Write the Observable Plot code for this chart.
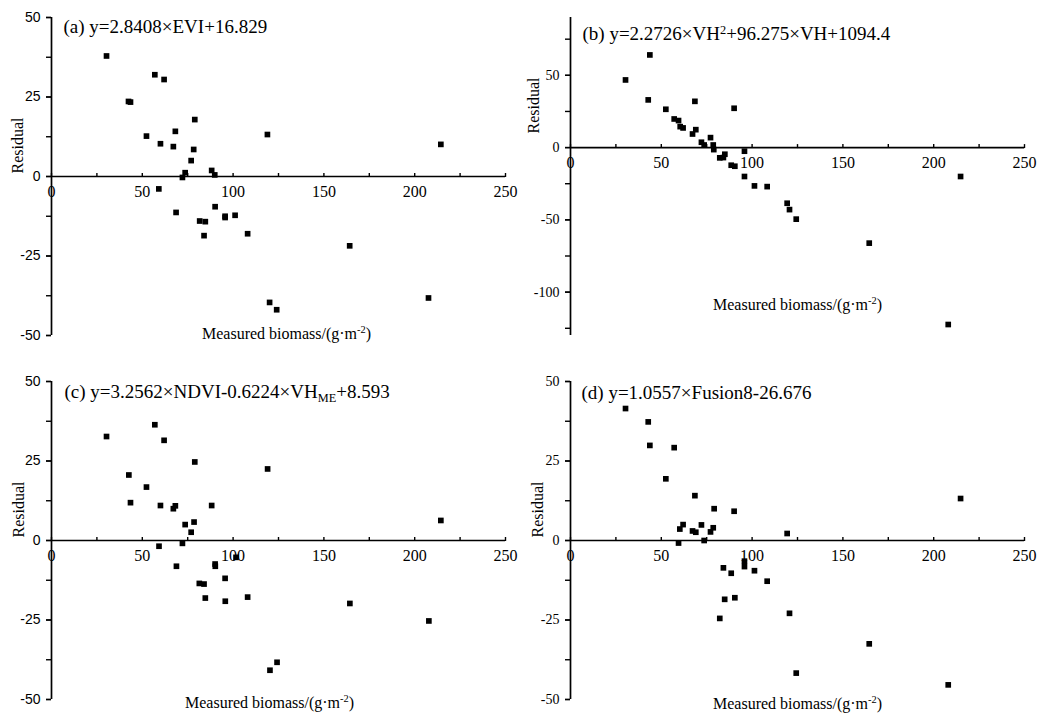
<!DOCTYPE html>
<html>
<head>
<meta charset="utf-8">
<script src="https://cdn.jsdelivr.net/npm/d3@7"></script>
<script src="https://cdn.jsdelivr.net/npm/@observablehq/plot@0.6"></script>
<style>
  html, body { margin: 0; padding: 0; background: #fff; }
  #wrap { position: relative; width: 1038px; height: 718px; overflow: hidden; background: #fff; }
  .pane { position: absolute; }
  svg { overflow: visible; }
</style>
</head>
<body>
<div id="wrap"></div>
<script>
// ---------- Data ----------
const xTicksMajor = [0, 50, 100, 150, 200, 250];
const xTicksMinor = [0, 25, 50, 75, 100, 125, 150, 175, 200, 225, 250];

const titleA = "(a) y=2.8408×EVI+16.829";
const titleB = "(b) y=2.2726×VH^{2}+96.275×VH+1094.4";
const titleC = "(c) y=3.2562×NDVI-0.6224×VH_{ME}+8.593";
const titleD = "(d) y=1.0557×Fusion8-26.676";
const xLabel = "Measured biomass/(g·m^{-2})";
const yLabel = "Residual";

const biomassA = [30.3, 42.4, 43.5, 56.9, 62.0, 52.3, 60.0, 67.1, 68.2, 78.9, 78.3, 76.9, 73.6, 72.1, 88.2, 89.9, 118.9, 214.4, 59.1, 68.6, 81.6, 84.7, 84.0, 90.1, 95.6, 95.6, 101.1, 108.0, 164.2, 120.1, 124.0, 207.6];
const residualA = [37.9, 23.6, 23.4, 32.0, 30.5, 12.7, 10.3, 9.4, 14.2, 17.9, 8.5, 5.0, 1.2, -0.3, 1.9, 0.5, 13.2, 10.1, -3.9, -11.3, -14.0, -14.2, -18.6, -9.5, -12.5, -12.9, -12.2, -18.0, -21.8, -39.6, -41.9, -38.2];

const biomassB = [30.3, 43.7, 42.8, 52.5, 57.1, 59.5, 60.4, 62.0, 68.5, 69.0, 67.2, 72.1, 73.6, 77.1, 78.6, 78.9, 82.2, 84.2, 85.0, 88.5, 90.5, 90.1, 95.8, 95.8, 101.3, 108.3, 119.3, 120.6, 124.3, 164.5, 208.0, 214.8];
const residualB = [46.8, 64.1, 33.0, 26.5, 19.8, 18.7, 14.5, 13.6, 32.0, 12.4, 9.4, 3.7, 1.8, 6.9, 1.8, -1.4, -7.1, -6.9, -4.6, -12.2, -12.9, 27.2, -2.5, -20.0, -26.5, -27.0, -38.5, -42.9, -49.5, -66.1, -122.4, -20.0];

const biomassC = [30.3, 56.9, 62.0, 42.6, 52.3, 43.5, 60.0, 67.1, 68.2, 78.9, 119.0, 88.2, 73.6, 78.5, 76.9, 72.1, 59.2, 214.4, 68.8, 90.1, 90.2, 101.6, 81.4, 84.0, 95.6, 84.7, 95.7, 108.0, 164.3, 207.8, 120.3, 124.2];
const residualC = [32.7, 36.4, 31.5, 20.6, 16.8, 11.9, 11.0, 10.0, 10.9, 24.7, 22.5, 11.0, 5.0, 5.8, 2.6, -0.9, -1.8, 6.3, -8.1, -7.4, -8.1, -5.3, -13.5, -13.7, -11.9, -18.1, -19.1, -17.8, -19.8, -25.3, -40.8, -38.3];

const biomassD = [30.3, 42.8, 43.7, 57.1, 52.5, 68.5, 79.1, 90.1, 214.8, 62.0, 60.2, 72.1, 67.2, 69.0, 77.1, 78.6, 73.6, 59.5, 119.3, 95.8, 95.8, 84.2, 88.5, 101.3, 108.3, 84.9, 90.5, 82.2, 120.6, 164.5, 124.3, 208.0];
const residualD = [41.5, 37.3, 29.9, 29.2, 19.4, 14.1, 10.0, 9.2, 13.2, 5.0, 3.6, 4.9, 3.0, 2.6, 2.7, 4.0, 0.0, -0.8, 2.2, -6.5, -8.2, -8.6, -10.3, -9.5, -12.8, -18.5, -18.0, -24.5, -22.9, -32.5, -41.7, -45.4];

const yDomainA = [-50, 50], yMajorA = [-50, -25, 0, 25, 50], yMinorA = [-50, -37.5, -25, -12.5, 0, 12.5, 25, 37.5, 50];
const yDomainB = [-130, 90], yMajorB = [-100, -50, 0, 50], yMinorB = [-125, -100, -75, -50, -25, 0, 25, 50, 75];
const yDomainC = yDomainA, yMajorC = yMajorA, yMinorC = yMinorA;
const yDomainD = yDomainA, yMajorD = yMajorA, yMinorD = yMinorA;

// ---------- Drawing ----------
const SERIF = "'Liberation Serif', 'Times New Roman', serif";
const SANS = "'Liberation Sans', Arial, sans-serif";

function richText(svg) {
  svg.querySelectorAll("text").forEach(t => {
    const s = t.textContent;
    if (!/[\^_]\{/.test(s)) return;
    while (t.firstChild) t.removeChild(t.firstChild);
    const re = /([\^_])\{([^}]*)\}/g;
    let last = 0, m;
    const ns = "http://www.w3.org/2000/svg";
    const add = (txt, shift, small) => {
      const ts = document.createElementNS(ns, "tspan");
      ts.textContent = txt;
      if (small) ts.setAttribute("font-size", "65%");
      if (shift) ts.setAttribute("dy", shift);
      t.appendChild(ts);
    };
    let pendingBack = 0;
    while ((m = re.exec(s))) {
      const before = s.slice(last, m.index);
      if (before) { add(before, pendingBack ? String(pendingBack) : null, false); pendingBack = 0; }
      const up = m[1] === "^" ? -6 : 4;
      add(m[2], String(up + pendingBack), true);
      pendingBack = -up;
      last = re.lastIndex;
    }
    const rest = s.slice(last);
    if (rest) add(rest, pendingBack ? String(pendingBack) : null, false);
  });
}

function panel(cfg) {
  const W = 519, H = 355, mt = 17, mb = 20, ml = 51, mr = 14;
  const ph = H - mt - mb;
  const [y0, y1] = cfg.yDomain;
  const zeroUp = (0 - y0) / (y1 - y0) * ph; // px from bottom edge up to y=0
  const data = cfg.x.map((x, i) => ({biomass: x, residual: cfg.y[i]}));
  const svg = Plot.plot({
    width: W, height: H,
    marginTop: mt, marginBottom: mb, marginLeft: ml, marginRight: mr,
    style: {background: "white", color: "black", fontFamily: SERIF},
    x: {domain: [0, 250]},
    y: {domain: cfg.yDomain},
    marks: [
      Plot.axisY(cfg.yMinor, {tickSize: 5, strokeWidth: 1.4, tickFormat: () => "", label: null}),
      Plot.axisY(cfg.yMajor, {tickSize: 5, tickPadding: 6, strokeWidth: 1.4, label: null,
        fontFamily: cfg.yFont, fontSize: cfg.yFontSize, tickFormat: d => String(d)}),
      Plot.axisX(xTicksMinor, {anchor: "top", tickSize: 4, strokeWidth: 1.4, dy: ph - zeroUp,
        tickFormat: () => "", label: null}),
      Plot.axisX(xTicksMajor, {anchor: "bottom", tickSize: 0, tickPadding: 9, dy: -zeroUp,
        label: null, fontFamily: SERIF, fontSize: 16, tickFormat: d => String(d)}),
      Plot.ruleX([0], {strokeWidth: 1.7}),
      Plot.ruleY([0], {strokeWidth: 1.7}),
      Plot.dot(data, {x: "biomass", y: "residual", symbol: "square", r: 3.2, fill: "black", stroke: null}),
      Plot.text([cfg.title], {frameAnchor: "top-left", textAnchor: "start", lineAnchor: "middle",
        dx: cfg.titleDx, dy: cfg.titleDy, fontSize: 19, fontFamily: SERIF}),
      Plot.text([xLabel], {frameAnchor: "bottom", lineAnchor: "middle",
        dx: cfg.xlDx, dy: cfg.xlDy, fontSize: 16, fontFamily: SERIF}),
      Plot.text([yLabel], {frameAnchor: "left", rotate: -90, lineAnchor: "middle",
        dx: cfg.ylDx, dy: cfg.ylDy, fontSize: 16, fontFamily: SERIF})
    ]
  });
  richText(svg);
  const div = document.createElement("div");
  div.className = "pane";
  div.style.left = cfg.left + "px";
  div.style.top = cfg.top + "px";
  div.appendChild(svg);
  document.getElementById("wrap").appendChild(div);
}

panel({left: 0, top: 0, x: biomassA, y: residualA, yDomain: yDomainA, yMajor: yMajorA, yMinor: yMinorA,
  yFont: SANS, yFontSize: 14, title: titleA, titleDx: 12, titleDy: 9,
  xlDx: 8, xlDy: -2, ylDx: -34, ylDy: -3});
panel({left: 519, top: 0, x: biomassB, y: residualB, yDomain: yDomainB, yMajor: yMajorB, yMinor: yMinorB,
  yFont: SERIF, yFontSize: 14, title: titleB, titleDx: 12, titleDy: 16,
  xlDx: 0, xlDy: -31, ylDx: -37, ylDy: -43});
panel({left: 0, top: 364, x: biomassC, y: residualC, yDomain: yDomainC, yMajor: yMajorC, yMinor: yMinorC,
  yFont: SANS, yFontSize: 14, title: titleC, titleDx: 13, titleDy: 10,
  xlDx: -9, xlDy: 3, ylDx: -33, ylDy: -3});
panel({left: 519, top: 364, x: biomassD, y: residualD, yDomain: yDomainD, yMajor: yMajorD, yMinor: yMinorD,
  yFont: SERIF, yFontSize: 14, title: titleD, titleDx: 11, titleDy: 11,
  xlDx: 0, xlDy: 4, ylDx: -33, ylDy: -3});
</script>
</body>
</html>
